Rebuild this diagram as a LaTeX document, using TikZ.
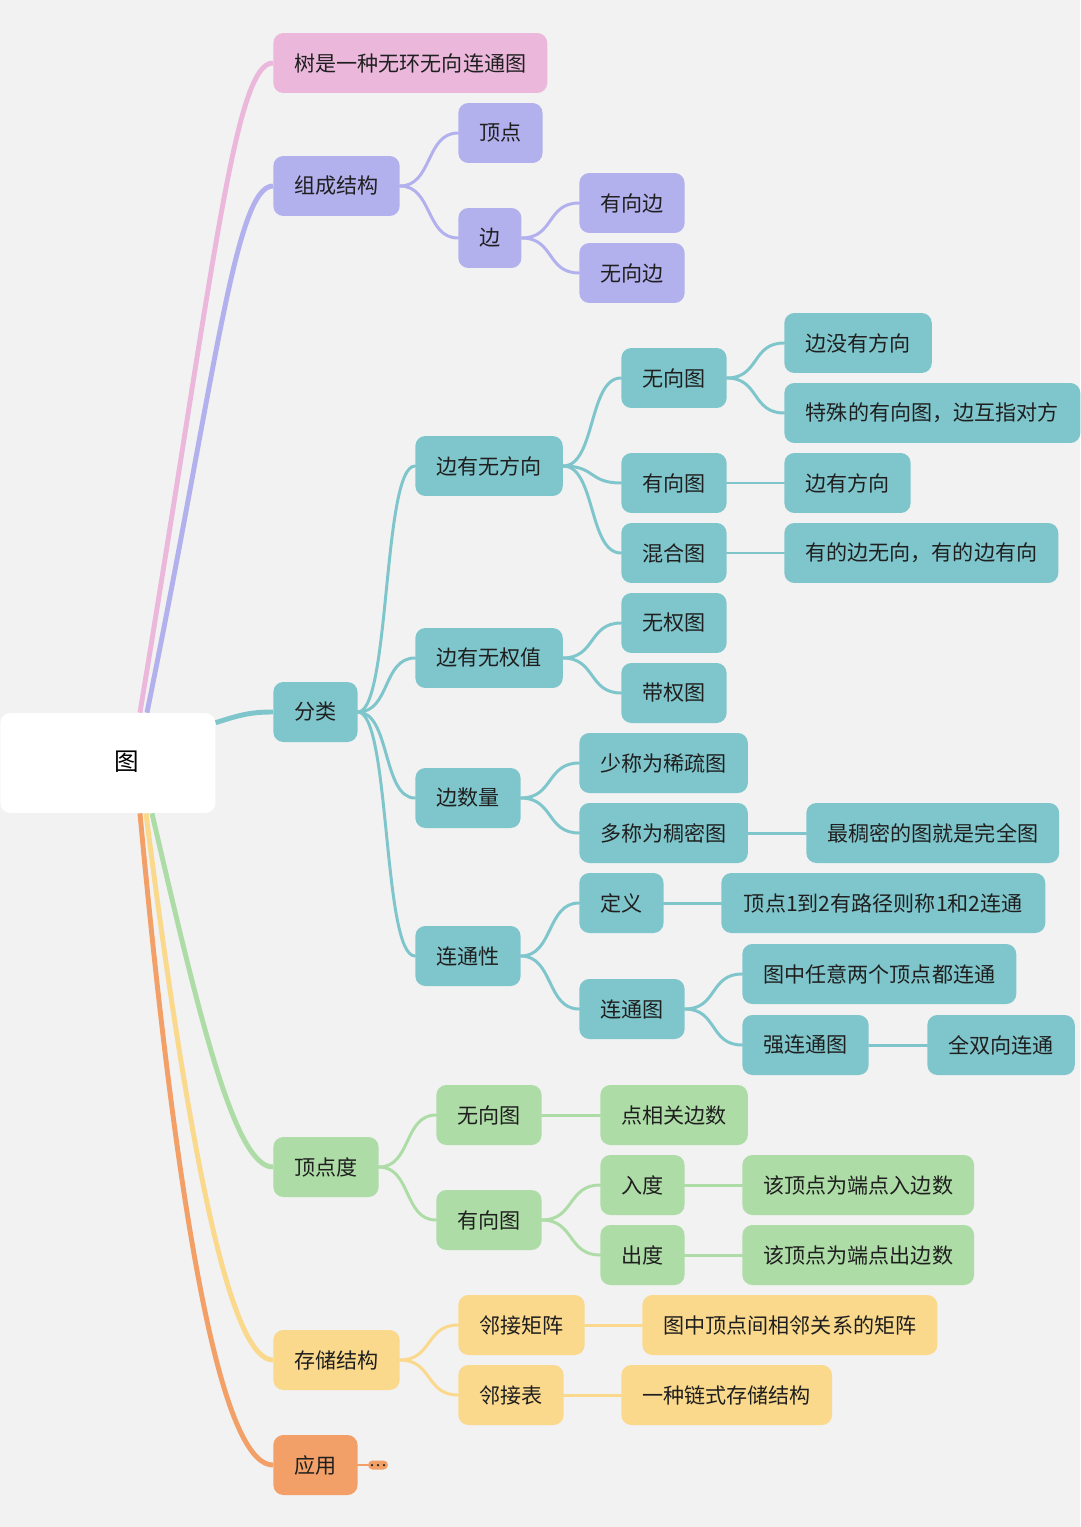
\documentclass[tikz,border=0pt]{standalone}
\usepackage{fontspec}
\setmainfont{Noto Sans CJK SC}
\usetikzlibrary{calc}
\definecolor{mmbg}{HTML}{F2F2F2}
\definecolor{mmpink}{HTML}{EBB8DC}
\definecolor{mmlav}{HTML}{B3B0EE}
\definecolor{mmteal}{HTML}{7FC6CC}
\definecolor{mmgreen}{HTML}{ADDCA6}
\definecolor{mmyellow}{HTML}{FAD98C}
\definecolor{mmorange}{HTML}{F2A067}
\definecolor{mmtext}{HTML}{1F1F1F}

\begin{document}
\begin{tikzpicture}[x=0.02cm, y=-0.02cm,
    topic/.style={rectangle, rounded corners=0.2cm, fill=#1, anchor=west,
                  minimum height=1.2cm, inner xsep=0.42cm, inner ysep=0pt,
                  text=mmtext, font=\fontsize{12}{14}\selectfont},
    rootbox/.style={rectangle, rounded corners=0.2cm, fill=white, anchor=west,
                    minimum width=4.3cm, minimum height=2cm, inner sep=0pt,
                    text=black, font=\fontsize{14}{16}\selectfont},
    branch/.style={draw=#1, line width=2.8pt},
    link/.style={draw=#1, line width=1.7pt, line cap=round},
    curv/.style={out=0, in=180, distance=0.65cm}
  ]
    \fill[mmbg] (0,0) rectangle (1080,1527);
    \useasboundingbox (0,0) rectangle (1080,1527);

    % Root
    \node[rootbox] (root) at (0,763) {\hspace{0.76cm}\raisebox{0.1cm}{图}};

    % Tree
    \node[topic=mmpink] (tree) at (273,63) {树是一种无环无向连通图};

    % Structure
    \node[topic=mmlav] (zucheng) at (273,186) {组成结构};
    \node[topic=mmlav] (dingdian) at (458,133) {顶点};
    \node[topic=mmlav] (bian) at (458,238) {边};
    \node[topic=mmlav] (youxb) at (579,203) {有向边};
    \node[topic=mmlav] (wuxb) at (579,273) {无向边};

    % Classification
    \node[topic=mmteal] (fenlei) at (273,712) {分类};
    \node[topic=mmteal] (fangxiang) at (415,466) {边有无方向};
    \node[topic=mmteal] (wxt) at (621,378) {无向图};
    \node[topic=mmteal] (mfx) at (784,343) {边没有方向};
    \node[topic=mmteal, minimum width=5.92cm] (tsyxt) at (784,413) {特殊的有向图，边互指对方};
    \node[topic=mmteal] (yxt) at (621,483) {有向图};
    \node[topic=mmteal] (yfx) at (784,483) {边有方向};
    \node[topic=mmteal] (hht) at (621,553) {混合图};
    \node[topic=mmteal] (ydbwx) at (784,553) {有的边无向，有的边有向};
    \node[topic=mmteal] (quanzhi) at (415,658) {边有无权值};
    \node[topic=mmteal] (wqt) at (621,623) {无权图};
    \node[topic=mmteal] (dqt) at (621,693) {带权图};
    \node[topic=mmteal] (shuliang) at (415,798) {边数量};
    \node[topic=mmteal] (xishu) at (579,763) {少称为稀疏图};
    \node[topic=mmteal] (choumi) at (579,833) {多称为稠密图};
    \node[topic=mmteal] (wanquan) at (806,833) {最稠密的图就是完全图};
    \node[topic=mmteal] (liantong) at (415,956) {连通性};
    \node[topic=mmteal] (dingyi) at (579,903) {定义};
    \node[topic=mmteal, minimum width=6.48cm] (ltdef) at (721,903) {顶点1到2有路径则称1和2连通};
    \node[topic=mmteal] (ltt) at (579,1009) {连通图};
    \node[topic=mmteal] (rylt) at (742,974) {图中任意两个顶点都连通};
    \node[topic=mmteal] (qlt) at (742,1045) {强连通图};
    \node[topic=mmteal] (sxlt) at (927,1045) {全双向连通};

    % Degree
    \node[topic=mmgreen] (du) at (273,1167) {顶点度};
    \node[topic=mmgreen] (dwxt) at (436,1115) {无向图};
    \node[topic=mmgreen] (dbs) at (600,1115) {点相关边数};
    \node[topic=mmgreen] (dyxt) at (436,1220) {有向图};
    \node[topic=mmgreen] (rudu) at (600,1185) {入度};
    \node[topic=mmgreen] (rdesc) at (742,1185) {该顶点为端点入边数};
    \node[topic=mmgreen] (chudu) at (600,1255) {出度};
    \node[topic=mmgreen] (cdesc) at (742,1255) {该顶点为端点出边数};

    % Storage
    \node[topic=mmyellow] (cunchu) at (273,1360) {存储结构};
    \node[topic=mmyellow] (jz) at (458,1325) {邻接矩阵};
    \node[topic=mmyellow] (jzdesc) at (642,1325) {图中顶点间相邻关系的矩阵};
    \node[topic=mmyellow] (lb) at (458,1395) {邻接表};
    \node[topic=mmyellow] (lbdesc) at (621,1395) {一种链式存储结构};

    % Application
    \node[topic=mmorange] (app) at (273,1465) {应用};
    \node[fill=mmorange, rounded corners=0.09cm, minimum width=0.4cm,
          minimum height=0.18cm, inner sep=0pt] (more) at (378,1465) {};
    \foreach \dx in {-6,0,6}
      \fill[mmtext] ($(more.center)+(\dx,0)$) circle (0.025cm);

    % Main branches from root
    \draw[branch=mmpink] ([xshift=2.8cm]root.north west) .. controls +(75,-453) and +(-38,0) .. (tree.west);
    \draw[branch=mmlav] ([xshift=2.94cm]root.north west) .. controls +(68,-333) and +(-38,0) .. (zucheng.west);
    \draw[branch=mmteal] ([yshift=-0.2cm]root.north east) .. controls +(25,-8) and +(-22,0) .. (fenlei.west);
    \draw[branch=mmgreen] ([xshift=3.04cm]root.south west) .. controls +(48,207) and +(-38,0) .. (du.west);
    \draw[branch=mmyellow] ([xshift=2.92cm]root.south west) .. controls +(49,387) and +(-38,0) .. (cunchu.west);
    \draw[branch=mmorange] ([xshift=2.8cm]root.south west) .. controls +(45,487) and +(-43,0) .. (app.west);
    \draw[link=mmorange, line width=1.2pt] (app.east) -- (more.west);

    % Structure links
    \draw[link=mmlav] (zucheng.east) to[curv] (dingdian.west);
    \draw[link=mmlav] (zucheng.east) to[curv] (bian.west);
    \draw[link=mmlav] (bian.east) to[curv] (youxb.west);
    \draw[link=mmlav] (bian.east) to[curv] (wuxb.west);

    % Classification links
    \foreach \c in {fangxiang, quanzhi, shuliang, liantong}
      \draw[link=mmteal] (fenlei.east) to[curv] (\c.west);
    \foreach \c in {wxt, yxt, hht}
      \draw[link=mmteal] (fangxiang.east) to[curv] (\c.west);
    \draw[link=mmteal] (wxt.east) to[curv] (mfx.west);
    \draw[link=mmteal] (wxt.east) to[curv] (tsyxt.west);
    \draw[link=mmteal] (yxt.east) -- (yfx.west);
    \draw[link=mmteal] (hht.east) -- (ydbwx.west);
    \draw[link=mmteal] (quanzhi.east) to[curv] (wqt.west);
    \draw[link=mmteal] (quanzhi.east) to[curv] (dqt.west);
    \draw[link=mmteal] (shuliang.east) to[curv] (xishu.west);
    \draw[link=mmteal] (shuliang.east) to[curv] (choumi.west);
    \draw[link=mmteal] (choumi.east) -- (wanquan.west);
    \draw[link=mmteal] (liantong.east) to[curv] (dingyi.west);
    \draw[link=mmteal] (liantong.east) to[curv] (ltt.west);
    \draw[link=mmteal] (dingyi.east) -- (ltdef.west);
    \draw[link=mmteal] (ltt.east) to[curv] (rylt.west);
    \draw[link=mmteal] (ltt.east) to[curv] (qlt.west);
    \draw[link=mmteal] (qlt.east) -- (sxlt.west);

    % Degree links
    \draw[link=mmgreen] (du.east) to[curv] (dwxt.west);
    \draw[link=mmgreen] (du.east) to[curv] (dyxt.west);
    \draw[link=mmgreen] (dwxt.east) -- (dbs.west);
    \draw[link=mmgreen] (dyxt.east) to[curv] (rudu.west);
    \draw[link=mmgreen] (dyxt.east) to[curv] (chudu.west);
    \draw[link=mmgreen] (rudu.east) -- (rdesc.west);
    \draw[link=mmgreen] (chudu.east) -- (cdesc.west);

    % Storage links
    \draw[link=mmyellow] (cunchu.east) to[curv] (jz.west);
    \draw[link=mmyellow] (cunchu.east) to[curv] (lb.west);
    \draw[link=mmyellow] (jz.east) -- (jzdesc.west);
    \draw[link=mmyellow] (lb.east) -- (lbdesc.west);
\end{tikzpicture}
\end{document}
